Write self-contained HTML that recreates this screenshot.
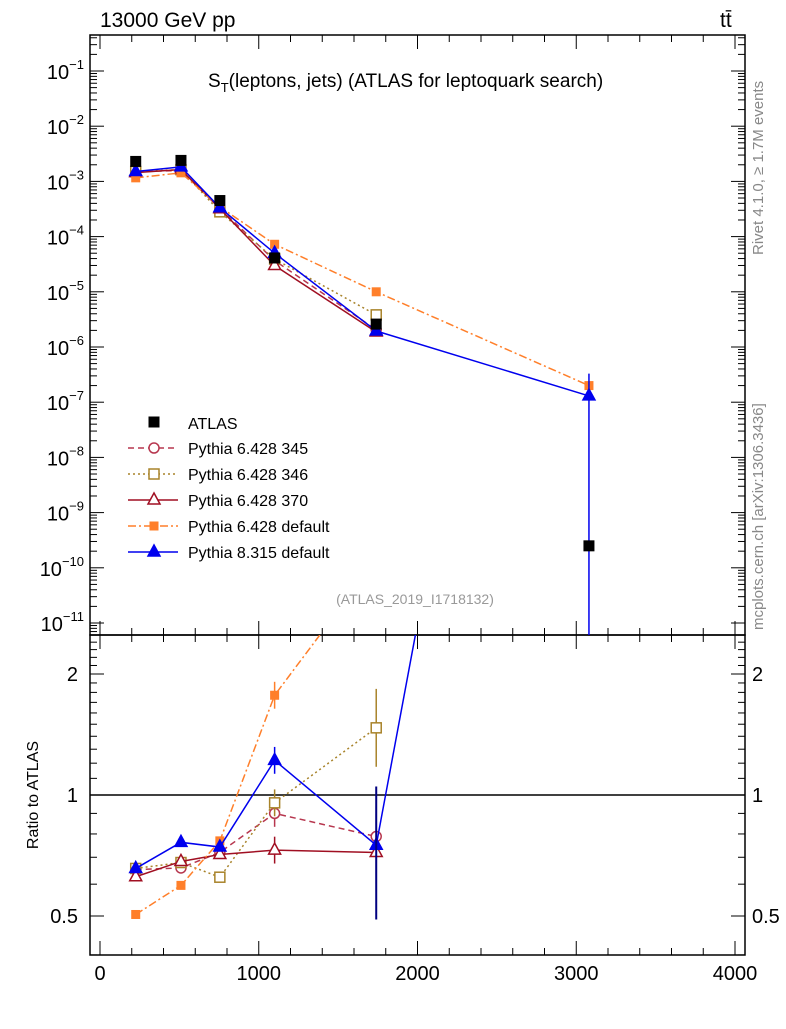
<!DOCTYPE html>
<html><head><meta charset="utf-8"><style>
body{margin:0;background:#fff;width:786px;height:1024px;overflow:hidden}
svg{font-family:"Liberation Sans",sans-serif}
</style></head><body>
<svg id="c" width="786" height="1024"></svg>
<script>
const xs=[225,510,755,1100,1740,3080];
const atlas=[2.3e-3,2.4e-3,4.5e-4,4.1e-5,2.6e-6,2.5e-10];
const p345=[1.50e-3,1.58e-3,3.24e-4,3.69e-5,2.05e-6];
const p346=[1.51e-3,1.63e-3,2.81e-4,3.92e-5,3.82e-6];
const p370=[1.44e-3,1.64e-3,3.2e-4,2.99e-5,1.87e-6];
const pdef6=[1.16e-3,1.43e-3,3.46e-4,7.26e-5,1.0e-5,2e-7];
const p8=[1.51e-3,1.83e-3,3.34e-4,5.0e-5,1.95e-6,1.3e-7];
const xTicks=[0,1000,2000,3000,4000];
const yExps=[-11,-10,-9,-8,-7,-6,-5,-4,-3,-2,-1];
const rTicks=[0.5,1,2];

const NS="http://www.w3.org/2000/svg",svg=document.getElementById('c');
function el(t,a,p){const e=document.createElementNS(NS,t);for(const k in a)e.setAttribute(k,a[k]);(p||svg).appendChild(e);return e;}
const L=90,R=745,T=35,M=635,B=955;
const X=v=>100+v*0.15875;
const Y=v=>71+(-1-Math.log10(v))*55.2;
const YR=v=>795-Math.log2(v)*121;
const defs=el('defs',{});
const c1=el('clipPath',{id:'cm'},defs);el('rect',{x:L,y:T,width:R-L,height:M-T},c1);
const c2=el('clipPath',{id:'cr'},defs);el('rect',{x:L,y:M,width:R-L,height:B-M},c2);
let f=el('rect',{x:L,y:T,width:R-L,height:M-T,fill:'none',stroke:'#000','stroke-width':1.5});

f=el('rect',{x:L,y:M,width:R-L,height:B-M,fill:'none',stroke:'#000','stroke-width':1.5});

xTicks.forEach(v=>{const x=X(v);
 el('line',{x1:x,x2:x,y1:B,y2:B-14,stroke:'#000'});el('line',{x1:x,x2:x,y1:M,y2:M+14,stroke:'#000'});
 el('line',{x1:x,x2:x,y1:T,y2:T+14,stroke:'#000'});el('line',{x1:x,x2:x,y1:M,y2:M-14,stroke:'#000'});
 const t=el('text',{x:x,y:980,'text-anchor':'middle','font-size':20});t.textContent=v;
 });
for(let v=200;v<4000;v+=200){if(v%1000==0)continue;const x=X(v);
 [[B,B-7],[M,M+7],[T,T+7],[M,M-7]].forEach(p=>el('line',{x1:x,x2:x,y1:p[0],y2:p[1],stroke:'#000'}));}
yExps.forEach(e=>{const y=Y(Math.pow(10,e));
 el('line',{x1:L,x2:L+14,y1:y,y2:y,stroke:'#000'});el('line',{x1:R,x2:R-14,y1:y,y2:y,stroke:'#000'});
 const t=el('text',{x:84,y:y+8,'text-anchor':'end','font-size':20});
 t.innerHTML='10<tspan font-size="13" dy="-10">'+String(e).replace('-','−')+'</tspan>';
 
 for(let m=2;m<10;m++){const yy=Y(m*Math.pow(10,e));if(yy<T)continue;
  el('line',{x1:L,x2:L+7,y1:yy,y2:yy,stroke:'#000'});el('line',{x1:R,x2:R-7,y1:yy,y2:yy,stroke:'#000'});}});
for(let m=2;m<10;m++){const yy=Y(m*1e-12);if(yy<M)el('line',{x1:L,x2:L+7,y1:yy,y2:yy,stroke:'#000'});}
rTicks.forEach(v=>{const y=YR(v);
 el('line',{x1:L,x2:L+14,y1:y,y2:y,stroke:'#000'});el('line',{x1:R,x2:R-14,y1:y,y2:y,stroke:'#000'});
 let t=el('text',{x:78,y:y+7,'text-anchor':'end','font-size':20});t.textContent=v;
 
 t=el('text',{x:752,y:y+7,'font-size':20});t.textContent=v;});
[0.4,0.6,0.7,0.8,0.9,1.1,1.2,1.3,1.4,1.5,1.6,1.7,1.8,1.9,2.1,2.2,2.3,2.4,2.5].forEach(v=>{const y=YR(v);if(y<M||y>B)return;
 el('line',{x1:L,x2:L+7,y1:y,y2:y,stroke:'#000'});el('line',{x1:R,x2:R-7,y1:y,y2:y,stroke:'#000'});});
el('line',{x1:L,x2:R,y1:YR(1),y2:YR(1),stroke:'#000','stroke-width':1.5});
const series=[
 {n:'Pythia 6.428 345',d:p345,c:'#b7374f',dash:'6,4',m:'circle',fill:false},
 {n:'Pythia 6.428 346',d:p346,c:'#a8832a',dash:'2,3',m:'square',fill:false},
 {n:'Pythia 6.428 370',d:p370,c:'#a00f22',dash:'',m:'tri',fill:false},
 {n:'Pythia 6.428 default',d:pdef6,c:'#ff7f2a',dash:'8,3,2,3',m:'sq',fill:true},
 {n:'Pythia 8.315 default',d:p8,c:'#0000ee',dash:'',m:'tri',fill:true}];
function marker(g,m,x,y,c,fill){
 const sw=1.5;
 if(m=='circle')el('circle',{cx:x,cy:y,r:5,fill:'#fff',stroke:c,'stroke-width':sw},g);
 else if(m=='square')el('rect',{x:x-5,y:y-5,width:10,height:10,fill:'#fff',stroke:c,'stroke-width':sw},g);
 else if(m=='sq')el('rect',{x:x-4.5,y:y-4.5,width:9,height:9,fill:c},g);
 else if(m=='tri')el('polygon',{points:`${x},${y-7} ${x-6},${y+4} ${x+6},${y+4}`,fill:fill?c:'#fff',stroke:c,'stroke-width':sw},g);
 else if(m=='atlas')el('rect',{x:x-5.5,y:y-5.5,width:11,height:11,fill:'#000'},g);}
series.forEach((s,si)=>{
 const g=el('g',{'clip-path':'url(#cm)'});
 const pts=s.d.map((v,i)=>X(xs[i])+','+Y(v)).join(' ');
 el('polyline',{points:pts,fill:'none',stroke:s.c,'stroke-width':1.5,'stroke-dasharray':s.dash},g);
 s.d.forEach((v,i)=>marker(g,s.m,X(xs[i]),Y(v),s.c,s.fill));
 const g2=el('g',{'clip-path':'url(#cr)'});
 const n=Math.min(s.d.length,5);
 const rp=s.d.slice(0,n).map((v,i)=>X(xs[i])+','+YR(v/atlas[i])).join(' ')+(s.d.length>5?' '+X(xs[5])+','+YR(s.d[5]/atlas[5]):'');
 el('polyline',{points:rp,fill:'none',stroke:s.c,'stroke-width':1.5,'stroke-dasharray':s.dash},g2);
 s.d.slice(0,n).forEach((v,i)=>{const r=v/atlas[i];const y=YR(r);
  const e=i==4?0.25:(i==3?0.08:0.02);
  el('line',{x1:X(xs[i]),x2:X(xs[i]),y1:YR(r*(1+e)),y2:YR(r/(1+e)),stroke:s.c,'stroke-width':1.5},g2);
  marker(g2,s.m,X(xs[i]),y,s.c,s.fill);});
});
el('line',{x1:X(1740),x2:X(1740),y1:YR(1.05),y2:YR(0.49),stroke:'#000080','stroke-width':2});
el('line',{x1:X(3080),x2:X(3080),y1:Y(3.3e-7),y2:M,stroke:'#0000ee','stroke-width':1.5});
const ga=el('g',{});
atlas.forEach((v,i)=>marker(ga,'atlas',X(xs[i]),Y(v),'#000',true));
const lg=el('g',{});
marker(lg,'atlas',154,422,'#000',true);
let t=el('text',{x:188,y:429,'font-size':16},lg);t.textContent='ATLAS';
series.forEach((s,i)=>{const y=448+i*26;
 el('line',{x1:128,x2:178,y1:y,y2:y,stroke:s.c,'stroke-width':1.5,'stroke-dasharray':s.dash},lg);
 marker(lg,s.m,154,y,s.c,s.fill);
 const tt=el('text',{x:188,y:y+6,'font-size':16},lg);tt.textContent=s.n;
 });
t=el('text',{x:100,y:27,'font-size':21});t.textContent='13000 GeV pp';
t=el('text',{x:720,y:27,'font-size':21});t.textContent='tt̄';
t=el('text',{x:208,y:87,'font-size':19});t.innerHTML='S<tspan font-size="13" dy="5">T</tspan><tspan dy="-5">(leptons, jets) (ATLAS for leptoquark search)</tspan>';

t=el('text',{x:415,y:604,'font-size':14,fill:'#999','text-anchor':'middle'});t.textContent='(ATLAS_2019_I1718132)';
t=el('text',{x:0,y:0,'font-size':16,transform:'translate(38,795) rotate(-90)','text-anchor':'middle'});t.textContent='Ratio to ATLAS';

t=el('text',{x:0,y:0,'font-size':15,fill:'#888',transform:'translate(763,255) rotate(-90)'});t.textContent='Rivet 4.1.0, ≥ 1.7M events';
t=el('text',{x:0,y:0,'font-size':15,fill:'#888',transform:'translate(763,630) rotate(-90)'});t.textContent='mcplots.cern.ch [arXiv:1306.3436]';
</script></body></html>
